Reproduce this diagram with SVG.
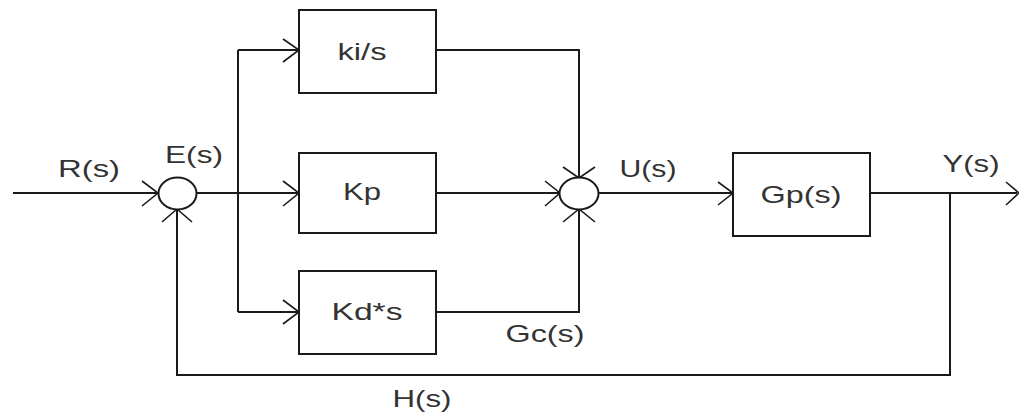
<svg xmlns="http://www.w3.org/2000/svg" width="1019" height="412" viewBox="0 0 1019 412">
<style>
.ln{fill:none;stroke:#1a1a1a;stroke-width:2}
.bx{fill:#fff;stroke:#1a1a1a;stroke-width:2}
.ah{fill:none;stroke:#1a1a1a;stroke-width:1.6}
text{font-family:"Liberation Sans",Arial,sans-serif;font-size:24px;fill:#333;text-anchor:middle}
</style>
<rect width="1019" height="412" fill="#fff"/>
<g id="connectors">
<path class="ln" d="M13 193 H158"/>
<path class="ah" d="M142 181 L158 193 L142 206"/>
<path class="ln" d="M196 193 H299"/>
<path class="ln" d="M238 50 V312"/>
<path class="ln" d="M238 50 H299"/>
<path class="ah" d="M283 39 L299 50 L283 62"/>
<path class="ah" d="M283 181 L299 193 L283 206"/>
<path class="ln" d="M238 312 H299"/>
<path class="ah" d="M283 300 L299 312 L283 324"/>
<path class="ln" d="M436 50 H579 V178"/>
<path class="ah" d="M563 167 L579 178 L595 167"/>
<path class="ln" d="M436 193 H560"/>
<path class="ah" d="M545 181 L560 193 L545 206"/>
<path class="ln" d="M436 312 H579 V209"/>
<path class="ah" d="M563 222 L579 209 L595 222"/>
<path class="ln" d="M598 193 H733"/>
<path class="ah" d="M718 182 L733 193 L718 205"/>
<path class="ln" d="M870 193 H1017"/>
<path class="ah" d="M1006 182 L1019 193 L1006 205"/>
<path class="ln" d="M950 193 V375 H177 V209"/>
<path class="ah" d="M162 222 L177 209 L192 222"/>
</g>
<g id="sum1"><ellipse class="bx" cx="177.5" cy="193.5" rx="19" ry="16"/></g>
<g id="sum2"><ellipse class="bx" cx="579" cy="193.5" rx="19.5" ry="16"/></g>
<g id="ki"><rect class="bx" x="299" y="10" width="137" height="83"/><text x="362" y="60" textLength="49" lengthAdjust="spacingAndGlyphs">ki/s</text></g>
<g id="kp"><rect class="bx" x="299" y="153" width="137" height="80"/><text x="362" y="200" textLength="38" lengthAdjust="spacingAndGlyphs">Kp</text></g>
<g id="kd"><rect class="bx" x="299" y="271" width="137" height="83"/><text x="367" y="320" textLength="71" lengthAdjust="spacingAndGlyphs">Kd*s</text></g>
<g id="gp"><rect class="bx" x="733" y="153" width="137" height="83"/><text x="801" y="203" textLength="81" lengthAdjust="spacingAndGlyphs">Gp(s)</text></g>
<g id="labels">
<text x="89" y="177" textLength="62" lengthAdjust="spacingAndGlyphs">R(s)</text>
<text x="194" y="163" textLength="58" lengthAdjust="spacingAndGlyphs">E(s)</text>
<text x="648" y="177" textLength="57" lengthAdjust="spacingAndGlyphs">U(s)</text>
<text x="971" y="172" textLength="57" lengthAdjust="spacingAndGlyphs">Y(s)</text>
<text x="545" y="342" textLength="79" lengthAdjust="spacingAndGlyphs">Gc(s)</text>
<text x="422" y="407" textLength="59" lengthAdjust="spacingAndGlyphs">H(s)</text>
</g>
</svg>
